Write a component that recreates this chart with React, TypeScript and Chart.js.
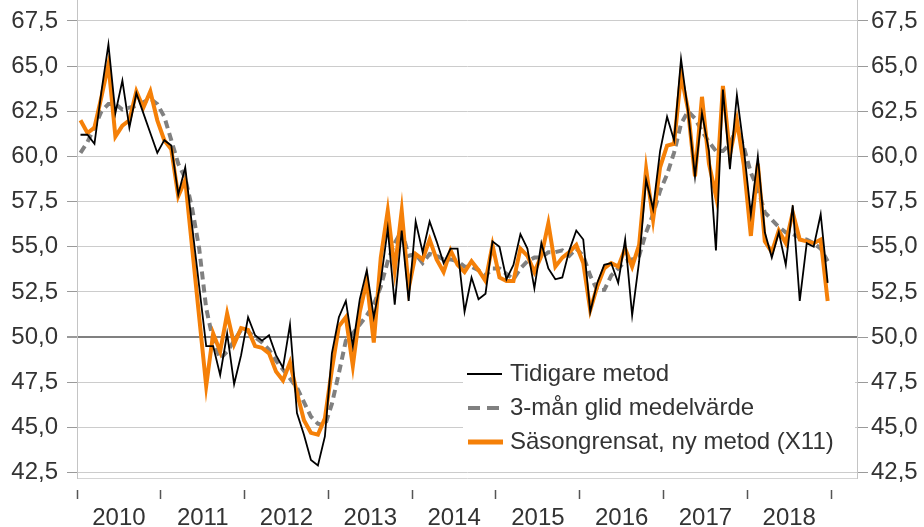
import React, { useEffect, useRef } from 'react';
import { Chart, registerables } from 'chart.js';

Chart.register(...registerables);

const years = ['2010', '2011', '2012', '2013', '2014', '2015', '2016', '2017', '2018'];

const yTickValues = [42.5, 45, 47.5, 50, 52.5, 55, 57.5, 60, 62.5, 65, 67.5];

// Tidigare metod (monthly, Jan 2010 - Dec 2018)
const tidigare = [
  61.2, 61.2, 60.7, 63.6, 66.2, 62.4, 64.2, 61.6, 63.5, 62.4, 61.3, 60.2,
  60.9, 60.6, 57.9, 59.4, 56.1, 52.8, 49.5, 49.5, 47.9, 50.2, 47.4, 49.0,
  51.1, 50.1, 49.8, 50.1, 49.0, 48.3, 50.7, 45.8, 44.6, 43.2, 42.9, 44.5,
  49.1, 51.1, 52.0, 49.5, 52.1, 53.7, 51.1, 53.1, 56.0, 51.8, 55.9, 52.0,
  56.4, 54.7, 56.4, 55.3, 54.1, 54.9, 54.9, 51.4, 53.3, 52.1, 52.4, 55.3,
  55.0, 53.2, 54.0, 55.7, 54.9, 52.7, 55.2, 53.8, 53.2, 53.3, 54.8, 55.9,
  55.4, 51.4, 53.0, 54.0, 54.1, 53.0, 55.4, 51.2, 54.2, 58.7, 57.1, 60.3,
  62.2, 60.9, 65.4, 62.5, 58.9, 62.4, 60.3, 54.8, 63.7, 59.3, 63.4, 60.4,
  56.8, 60.0, 55.8, 54.4, 55.8, 54.0, 57.3, 52.0, 55.2, 55.0, 56.8, 53.0,
];

// 3-mån glid medelvärde
const glid = [
  60.2, 60.8, 61.6, 62.5, 62.9, 62.9, 62.6, 62.7, 62.8, 63.0, 63.2, 62.9,
  62.2, 60.9, 59.6, 58.8, 57.1, 54.9, 51.6, 49.8, 48.8, 49.2, 49.8, 50.4,
  50.3, 50.0, 49.7, 49.3, 48.7, 48.2, 47.7, 47.2, 46.4, 45.6, 45.2, 45.1,
  46.3, 48.0, 49.8, 50.2, 50.7, 51.2, 51.8, 52.8, 54.2, 55.2, 55.9, 54.5,
  54.6, 54.1, 54.6, 54.5, 54.3, 54.3, 54.2, 53.9, 53.9, 53.7, 53.4, 53.8,
  53.8, 53.5, 53.2, 53.8, 54.2, 54.4, 54.4, 54.7, 54.7, 54.8, 54.5, 54.9,
  54.5, 53.4, 52.6, 52.6, 53.4, 53.8, 54.2, 54.3, 54.5, 55.8, 56.8, 58.1,
  59.0, 60.2, 61.8, 62.5, 62.1, 61.4, 60.8, 60.3, 60.3, 60.7, 61.6, 60.5,
  59.1, 58.2, 56.9, 56.5, 56.1, 55.8, 55.7, 55.5, 55.4, 55.2, 54.9, 54.2,
];

// Säsongrensat, ny metod (X11)
const sasong = [
  62.0, 61.3, 61.6, 63.3, 65.1, 61.1, 61.7, 62.0, 63.6, 62.7, 63.6, 62.0,
  60.9, 60.4, 57.8, 58.7, 54.9, 51.1, 47.3, 50.2, 49.2, 51.3, 49.6, 50.5,
  50.4, 49.5, 49.4, 49.1, 48.1, 47.6, 48.6, 46.9, 45.4, 44.7, 44.6, 45.5,
  48.2, 50.6, 51.1, 48.4, 51.4, 53.1, 49.7, 54.4, 57.0, 53.7, 57.0, 52.7,
  54.6, 54.3, 55.4, 54.3, 53.6, 54.8, 54.0, 53.6, 54.2, 53.7, 53.1, 55.1,
  53.3, 53.1, 53.1, 54.9, 54.5, 53.6, 54.5, 56.3, 53.9, 54.4, 54.7, 55.1,
  54.1, 51.5, 52.8, 53.8, 54.1, 53.9, 54.9, 53.9, 55.1, 59.3, 56.5, 59.4,
  60.6, 60.7, 64.5, 62.6, 58.9, 63.3, 59.6, 57.8, 63.9, 60.1, 62.0, 59.5,
  55.6, 59.6, 55.3, 54.7, 55.9, 55.2, 56.9, 55.4, 55.3, 55.2, 55.4, 52.0,
];

const legendLabels = ['Tidigare metod', '3-mån glid medelvärde', 'Säsongrensat, ny metod (X11)'];

const ORANGE = 'rgb(245,128,8)';
const GRAY = 'rgb(128,128,128)';
const TEXT = '#333333';
const FONT_FAMILY = "'Liberation Sans', Arial, sans-serif";

const W = 924;
const H = 527;

const fmt = (v: number) => v.toFixed(1).replace('.', ',');

export default function App() {
  const ref = useRef<HTMLCanvasElement | null>(null);

  useEffect(() => {
    document.body.style.margin = '0';
    const canvas = ref.current;
    if (!canvas) return;

    const toXY = (arr: number[]) => arr.map((v, i) => ({ x: i, y: v }));

    const boundaries = years.map((_, k) => -0.5 + 12 * k).concat([-0.5 + 12 * years.length]);
    const centers = years.map((_, k) => 5.5 + 12 * k);
    const xTickValues = [...boundaries, ...centers].sort((a, b) => a - b);
    const isBoundary = (v: number) => boundaries.some((b) => Math.abs(b - v) < 1e-6);

    const legendPlugin = {
      id: 'innerLegend',
      afterDatasetsDraw(chart: any) {
        const c = chart.ctx as CanvasRenderingContext2D;
        c.save();
        c.fillStyle = '#ffffff';
        c.fillRect(463, 351, 392, 110);
        const rows = [374, 408, 442];
        // row 1: black line
        c.lineCap = 'butt';
        c.strokeStyle = '#000';
        c.lineWidth = 2;
        c.beginPath();
        c.moveTo(467, rows[0]);
        c.lineTo(502, rows[0]);
        c.stroke();
        // row 2: gray dashed
        c.strokeStyle = GRAY;
        c.lineWidth = 4;
        c.setLineDash([12, 7]);
        c.beginPath();
        c.moveTo(468, rows[1]);
        c.lineTo(502, rows[1]);
        c.stroke();
        c.setLineDash([]);
        // row 3: orange
        c.strokeStyle = ORANGE;
        c.lineWidth = 5;
        c.beginPath();
        c.moveTo(468, rows[2]);
        c.lineTo(503, rows[2]);
        c.stroke();
        c.fillStyle = TEXT;
        c.font = `24px ${FONT_FAMILY}`;
        c.textBaseline = 'middle';
        c.textAlign = 'left';
        legendLabels.forEach((t, i) => c.fillText(t, 510, rows[i]));
        c.restore();
      },
    };

    const yMin = 42.2;
    const yMax = 68.66;

    const chart = new Chart(canvas, {
      type: 'line',
      data: {
        datasets: [
          {
            label: legendLabels[0],
            data: toXY(tidigare),
            borderColor: '#000000',
            borderWidth: 1.8,
            pointRadius: 0,
            tension: 0,
            fill: false,
          },
          {
            label: legendLabels[2],
            data: toXY(sasong),
            borderColor: ORANGE,
            borderWidth: 4,
            pointRadius: 0,
            tension: 0,
            fill: false,
            borderJoinStyle: 'miter',
          },
          {
            label: legendLabels[1],
            data: toXY(glid),
            borderColor: GRAY,
            borderWidth: 4,
            borderDash: [8, 5],
            pointRadius: 0,
            tension: 0,
            fill: false,
          },
        ],
      },
      options: {
        responsive: false,
        animation: false,
        devicePixelRatio: 1,
        layout: { padding: 0 },
        font: { family: FONT_FAMILY },
        plugins: {
          legend: { display: false },
          tooltip: { enabled: false },
          title: { display: false },
        },
        scales: {
          x: {
            type: 'linear',
            min: -0.5,
            max: 111.2,
            afterBuildTicks: (s: any) => {
              s.ticks = xTickValues.map((v) => ({ value: v }));
            },
            afterFit: (s: any) => {
              s.height = 49;
              s.paddingLeft = 0;
              s.paddingRight = 0;
            },
            grid: {
              drawOnChartArea: false,
              drawTicks: true,
              tickLength: 21,
              tickWidth: 1.5,
              tickColor: (ctx: any) =>
                ctx.tick && isBoundary(ctx.tick.value) ? '#555555' : 'rgba(0,0,0,0)',
              tickBorderDash: [0, 11, 10, 200],
            },
            border: { display: true, color: '#d4d4d4', width: 1 },
            ticks: {
              autoSkip: false,
              maxRotation: 0,
              minRotation: 0,
              padding: 5,
              color: TEXT,
              font: { family: FONT_FAMILY, size: 24 },
              callback: (value: any) => {
                const idx = centers.findIndex((c) => Math.abs(c - Number(value)) < 1e-6);
                return idx >= 0 ? years[idx] : '';
              },
            },
          },
          y: {
            type: 'linear',
            position: 'left',
            min: yMin,
            max: yMax,
            afterBuildTicks: (s: any) => {
              s.ticks = yTickValues.map((v) => ({ value: v }));
            },
            afterFit: (s: any) => {
              s.width = 77;
              s.paddingTop = 0;
              s.paddingBottom = 0;
            },
            grid: {
              drawOnChartArea: true,
              drawTicks: true,
              tickLength: 10,
              tickColor: '#9a9a9a',
              color: (ctx: any) =>
                ctx.tick && Math.abs(ctx.tick.value - 50) < 1e-6 ? '#808080' : '#cccccc',
              lineWidth: (ctx: any) =>
                ctx.tick && Math.abs(ctx.tick.value - 50) < 1e-6 ? 2 : 1,
            },
            border: { display: true, color: '#c4c4c4', width: 1 },
            ticks: {
              padding: 9,
              color: TEXT,
              font: { family: FONT_FAMILY, size: 24 },
              callback: (value: any) => fmt(Number(value)),
            },
          },
          y2: {
            type: 'linear',
            position: 'right',
            min: yMin,
            max: yMax,
            afterBuildTicks: (s: any) => {
              s.ticks = yTickValues.map((v) => ({ value: v }));
            },
            afterFit: (s: any) => {
              s.width = 67;
              s.paddingTop = 0;
              s.paddingBottom = 0;
            },
            grid: {
              drawOnChartArea: false,
              drawTicks: true,
              tickLength: 11,
              tickColor: '#9a9a9a',
            },
            border: { display: true, color: '#c4c4c4', width: 1 },
            ticks: {
              padding: 3,
              color: TEXT,
              font: { family: FONT_FAMILY, size: 24 },
              callback: (value: any) => fmt(Number(value)),
            },
          },
        },
      } as any,
      plugins: [legendPlugin],
    });

    return () => chart.destroy();
  }, []);

  return (
    <div style={{ width: W, height: H }}>
      <canvas ref={ref} width={W} height={H} style={{ display: 'block', width: W, height: H }} />
    </div>
  );
}
